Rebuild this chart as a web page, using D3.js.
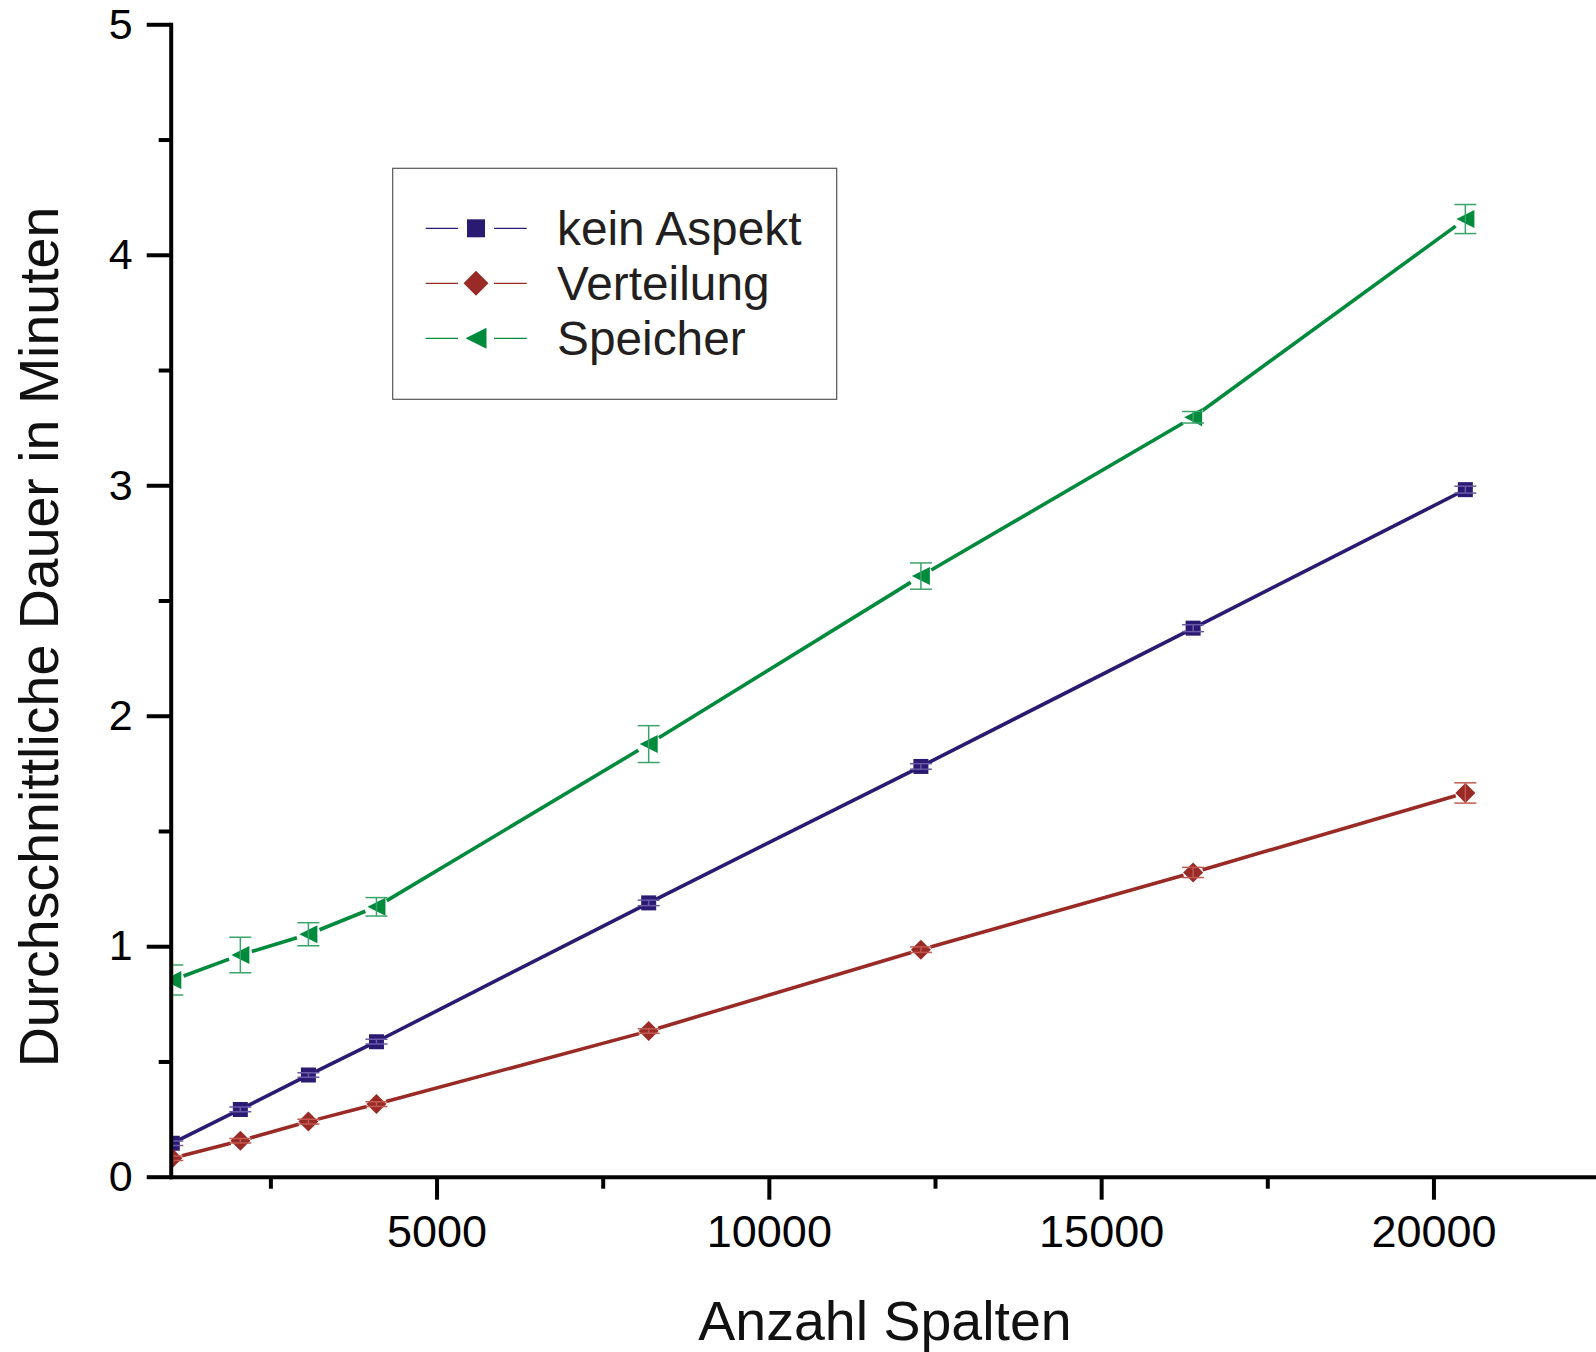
<!DOCTYPE html>
<html>
<head>
<meta charset="utf-8">
<script src="https://cdn.jsdelivr.net/npm/d3@7"></script>
<style>
body{margin:0;background:#fff;}
svg{display:block;font-family:"Liberation Sans",Arial,sans-serif;}
.axis path,.axis line{stroke:#000;stroke-width:4px;}
.axis .domain{stroke-linecap:square;}
.axis text{fill:#000;font-family:"Liberation Sans",Arial,sans-serif;}
</style>
</head>
<body>
<svg id="chart"></svg>
<script>
//data
var spalten = [1024,2048,3072,4096,8192,12288,16384,20480]
var keinAspekt = [0.145,0.292,0.441,0.586,1.188,1.78,2.38,2.981]
var keinAspektErr = [0.01,0.01,0.01,0.01,0.012,0.012,0.015,0.015]
var verteilung = [0.08,0.156,0.239,0.315,0.632,0.985,1.32,1.665]
var verteilungErr = [0.01,0.01,0.01,0.01,0.01,0.012,0.022,0.044]
var speicher = [0.853,0.962,1.052,1.171,1.877,2.606,3.295,4.155]
var speicherErr = [0.065,0.077,0.05,0.04,0.08,0.057,0.025,0.063]
var yTicks = [0,1,2,3,4,5]
var yMinor = [0.5,1.5,2.5,3.5,4.5]
var xTicks = [5000,10000,15000,20000]
var xMinor = [2500,7500,12500,17500]

var series = [
    {name:"kein Aspekt",values:keinAspekt,err:keinAspektErr,
     color:"#2b1a72",errColor:"#6a5aa8",shape:"square",gap:8},
    {name:"Verteilung",values:verteilung,err:verteilungErr,
     color:"#992a25",errColor:"#c05a50",shape:"diamond",gap:10},
    {name:"Speicher",values:speicher,err:speicherErr,
     color:"#008a3c",errColor:"#3aa56a",shape:"triangle",gap:12}
]

var markerPath = function(shape,s)
{
    if(shape=="square")
        {return "M"+(-s/2)+","+(-s/2)+"h"+s+"v"+s+"h"+(-s)+"Z";}
    if(shape=="diamond")
        {return "M0,"+(-s/2)+"L"+(s/2)+",0L0,"+(s/2)+"L"+(-s/2)+",0Z";}
    //left pointing triangle
    return "M"+(-s/2)+",0L"+(s/2)+","+(-s/2)+"L"+(s/2)+","+(s/2)+"Z";
}

var screen = {width:1596,height:1352}
var svg = d3.select("#chart")
    .attr("width",screen.width)
    .attr("height",screen.height)

var xScale = d3.scaleLinear()
    .domain([1000,22500])
    .range([170.7,1599.6])
var yScale = d3.scaleLinear()
    .domain([0,5])
    .range([1176.7,24.3])

svg.append("defs").append("clipPath")
    .attr("id","plotClip")
    .append("rect")
    .attr("x",xScale(1000))
    .attr("y",0)
    .attr("width",screen.width)
    .attr("height",yScale(0))

var plot = svg.append("g").attr("clip-path","url(#plotClip)")

//lines with gaps round the symbols
var drawSeries = function(s)
{
    var pts = spalten.map(function(x,i){return [xScale(x),yScale(s.values[i])];})
    var segs = []
    for(var i=0;i<pts.length-1;i++)
    {
        var dx = pts[i+1][0]-pts[i][0], dy = pts[i+1][1]-pts[i][1]
        var d = Math.sqrt(dx*dx+dy*dy)
        var ux = dx/d, uy = dy/d
        segs.push([pts[i][0]+ux*s.gap,pts[i][1]+uy*s.gap,
                   pts[i+1][0]-ux*s.gap,pts[i+1][1]-uy*s.gap])
    }
    var g = plot.append("g")
    g.selectAll("line.seg")
        .data(segs)
        .enter()
        .append("line")
        .attr("x1",function(d){return d[0];})
        .attr("y1",function(d){return d[1];})
        .attr("x2",function(d){return d[2];})
        .attr("y2",function(d){return d[3];})
        .attr("stroke",s.color)
        .attr("stroke-width",3.6)

    var size = s.shape=="square" ? 15 : (s.shape=="diamond" ? 20 : 18)
    g.selectAll("path.mark")
        .data(pts)
        .enter()
        .append("path")
        .attr("d",markerPath(s.shape,size))
        .attr("transform",function(p){return "translate("+p[0]+","+p[1]+")";})
        .attr("fill",s.color)

    //error bars
    var bars = g.selectAll("g.err")
        .data(spalten)
        .enter()
        .append("g")
        .attr("stroke",s.errColor)
        .attr("stroke-width",1.5)
    bars.append("line")
        .attr("x1",function(x){return xScale(x);})
        .attr("x2",function(x){return xScale(x);})
        .attr("y1",function(x,i){return yScale(s.values[i]+s.err[i]);})
        .attr("y2",function(x,i){return yScale(s.values[i]-s.err[i]);})
    ;[1,-1].forEach(function(sign)
    {
        bars.append("line")
            .attr("x1",function(x){return xScale(x)-11;})
            .attr("x2",function(x){return xScale(x)+11;})
            .attr("y1",function(x,i){return yScale(s.values[i]+sign*s.err[i]);})
            .attr("y2",function(x,i){return yScale(s.values[i]+sign*s.err[i]);})
    })
}
series.forEach(drawSeries)

//Axes
var xAxis = svg.append("g")
    .classed("axis",true)
    .attr("transform","translate(0,"+yScale(0)+")")
    .call(d3.axisBottom(xScale).tickValues(xTicks).tickSize(23)
          .tickSizeOuter(0).tickPadding(14).tickFormat(d3.format("d")))
xAxis.selectAll("text").attr("font-size",45).attr("dy","0.74em")
xAxis.append("g")
    .call(d3.axisBottom(xScale).tickValues(xMinor).tickSize(12).tickFormat(""))
    .select(".domain").remove()

var yAxis = svg.append("g")
    .classed("axis",true)
    .attr("transform","translate("+xScale(1000)+",0)")
    .call(d3.axisLeft(yScale).tickValues(yTicks).tickSize(24)
          .tickSizeOuter(0).tickPadding(14).tickFormat(d3.format("d")))
yAxis.selectAll("text").attr("font-size",43)
yAxis.append("g")
    .call(d3.axisLeft(yScale).tickValues(yMinor).tickSize(12).tickFormat(""))
    .select(".domain").remove()

//Labels
svg.append("text")
    .text("Anzahl Spalten")
    .attr("x",885)
    .attr("y",1340)
    .attr("text-anchor","middle")
    .attr("font-size",55.5)
    .attr("fill","#111")

svg.append("g")
    .attr("transform","translate(58,637)")
    .append("text")
    .text("Durchschnittliche Dauer in Minuten")
    .attr("text-anchor","middle")
    .attr("transform","rotate(270)")
    .attr("font-size",55.5)
    .attr("fill","#111")

//Legend
var legend = svg.append("g").classed("legend",true)
legend.append("rect")
    .attr("x",392.7)
    .attr("y",168.3)
    .attr("width",444)
    .attr("height",231)
    .attr("fill","#fff")
    .attr("stroke","#555")
    .attr("stroke-width",1.2)

var entries = legend.selectAll("g.entry")
    .data(series)
    .enter()
    .append("g")
    .attr("transform",function(s,i){return "translate(0,"+(228.3+i*55)+")";})
entries.append("line")
    .attr("x1",425.7).attr("x2",458).attr("y1",0).attr("y2",0)
    .attr("stroke",function(s){return s.color;})
    .attr("stroke-width",1.3)
entries.append("line")
    .attr("x1",494).attr("x2",526.7).attr("y1",0).attr("y2",0)
    .attr("stroke",function(s){return s.color;})
    .attr("stroke-width",1.3)
entries.append("path")
    .attr("d",function(s){
        var size = s.shape=="square" ? 18 : (s.shape=="diamond" ? 25 : 21)
        return markerPath(s.shape,size)
    })
    .attr("transform","translate(476,0)")
    .attr("fill",function(s){return s.color;})
entries.append("text")
    .text(function(s){return s.name;})
    .attr("x",557)
    .attr("y",17)
    .attr("font-size",47.8)
    .attr("fill","#231f20")
</script>
</body>
</html>
